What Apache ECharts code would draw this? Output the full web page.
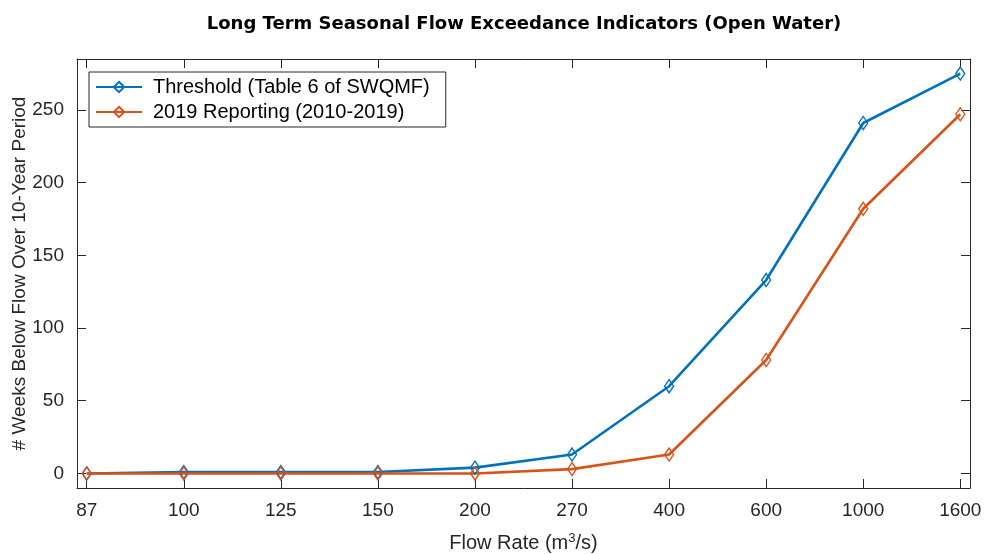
<!DOCTYPE html>
<html>
<head>
<meta charset="utf-8">
<script src="https://cdn.jsdelivr.net/npm/echarts@6/dist/echarts.min.js"></script>
<style>
  html, body { margin: 0; padding: 0; background: #fff; }
  #chart { width: 989px; height: 554px; }
</style>
</head>
<body>
<div id="chart"></div>
<script>
// Flow-rate classes (m^3/s) along the x axis
const flowRates = ['87', '100', '125', '150', '200', '270', '400', '600', '1000', '1600'];
// Weeks below each flow over the 10-year period
const thresholdWeeks = [0, 1, 1, 1, 4, 13, 60, 133, 241, 275];
const reporting2019Weeks = [0, 0, 0, 0, 0, 3, 13, 78, 182, 247];
// Y tick values
const yTicks = [0, 50, 100, 150, 200, 250];
const xTicks = flowRates.map((_, i) => i);

const FONT = '"Liberation Sans", Arial, Helvetica, sans-serif';
const TITLE_FONT = '"DejaVu Sans", "Liberation Sans", Arial, sans-serif';
const AXIS = '#262626';
const BLUE = '#0072BD';
const ORANGE = '#D95319';

const toPairs = arr => arr.map((v, i) => [i, v]);

const chart = echarts.init(document.getElementById('chart'), null, { renderer: 'canvas' });

const xBase = {
  type: 'value', min: -0.1, max: 9.1,
  splitLine: { show: false },
  axisLine: { show: true, onZero: false, lineStyle: { color: AXIS, width: 1 } },
  axisTick: { show: true, inside: true, length: 9, customValues: xTicks, lineStyle: { color: AXIS, width: 1 } }
};
const yBase = {
  type: 'value', min: -10, max: 285,
  splitLine: { show: false },
  axisLine: { show: true, onZero: false, lineStyle: { color: AXIS, width: 1 } },
  axisTick: { show: true, inside: true, length: 9, customValues: yTicks, lineStyle: { color: AXIS, width: 1 } }
};

function lineSeries(name, color, values) {
  return {
    name: name,
    type: 'line',
    data: toPairs(values),
    symbol: 'diamond',
    symbolSize: [9, 13],
    showAllSymbol: true,
    lineStyle: { color: color, width: 2.6 },
    itemStyle: { color: 'rgba(255,255,255,0)', borderColor: color, borderWidth: 1.4 },
    emphasis: { disabled: true },
    animation: false
  };
}

chart.setOption({
  backgroundColor: '#fff',
  animation: false,
  title: {
    text: 'Long Term Seasonal Flow Exceedance Indicators (Open Water)',
    left: 519, top: 10, textAlign: 'center',
    textStyle: { fontFamily: TITLE_FONT, fontWeight: 'bold', fontSize: 18, color: '#000' }
  },
  grid: { left: 77, right: 19, top: 59, bottom: 66, containLabel: false, outerBoundsMode: 'none' },
  legend: {
    left: 89, top: 72,
    orient: 'vertical',
    itemWidth: 46, itemHeight: 13, itemGap: 5,
    padding: [5, 16, 5, 6],
    borderColor: AXIS, borderWidth: 1, backgroundColor: '#fff',
    textStyle: { fontFamily: FONT, fontSize: 20, color: '#000', padding: [0, 0, 0, 6] },
    data: ['Threshold (Table 6 of SWQMF)', '2019 Reporting (2010-2019)']
  },
  xAxis: [
    Object.assign({}, xBase, {
      position: 'bottom',
      axisLabel: {
        show: true, customValues: xTicks, margin: 13,
        fontFamily: FONT, fontSize: 19, color: AXIS,
        formatter: v => flowRates[Math.round(v)]
      },
      name: 'Flow Rate (m{sup|3}/s)',
      nameLocation: 'middle', nameGap: 44,
      nameTextStyle: {
        fontFamily: FONT, fontSize: 20, color: AXIS,
        rich: { sup: { fontFamily: FONT, fontSize: 13, color: AXIS, verticalAlign: 'top', padding: [0, 0, 10, 0] } }
      }
    }),
    Object.assign({}, xBase, { position: 'top', axisLabel: { show: false } })
  ],
  yAxis: [
    Object.assign({}, yBase, {
      position: 'left',
      axisLabel: {
        show: true, customValues: yTicks, margin: 13,
        fontFamily: FONT, fontSize: 19, color: AXIS
      },
      name: '# Weeks Below Flow Over 10-Year Period',
      nameLocation: 'middle', nameGap: 48, nameRotate: 90, nameMoveOverlap: false,
      nameTextStyle: { fontFamily: FONT, fontSize: 19, color: AXIS }
    }),
    Object.assign({}, yBase, { position: 'right', axisLabel: { show: false } })
  ],
  series: [
    lineSeries('Threshold (Table 6 of SWQMF)', BLUE, thresholdWeeks),
    lineSeries('2019 Reporting (2010-2019)', ORANGE, reporting2019Weeks)
  ]
});
</script>
</body>
</html>
